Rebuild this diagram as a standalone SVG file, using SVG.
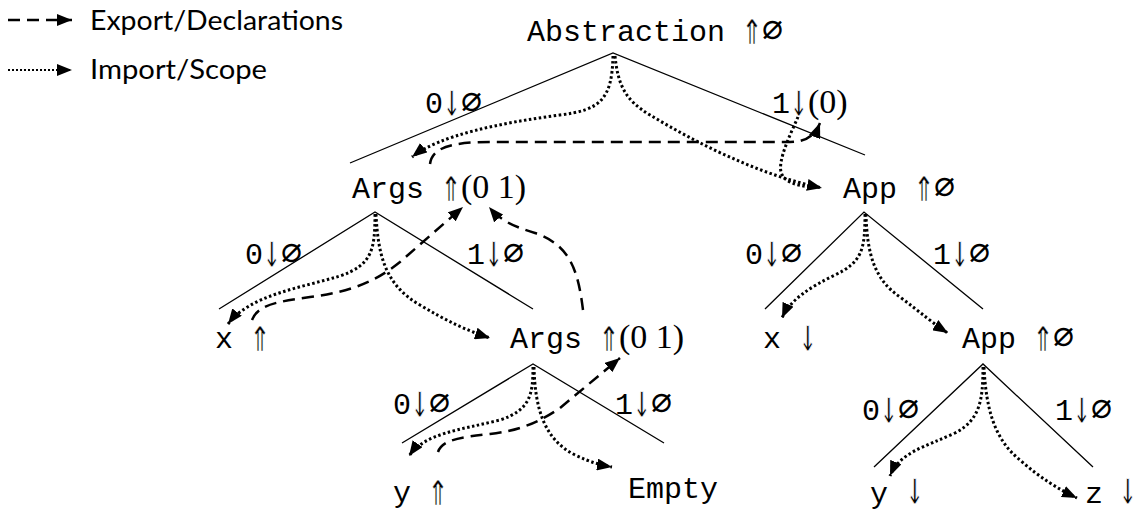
<svg xmlns="http://www.w3.org/2000/svg" width="1139" height="516" viewBox="0 0 1139 516">
<defs>
<marker id="ah" viewBox="0 0 15 12" refX="15" refY="6" markerWidth="15" markerHeight="12" markerUnits="userSpaceOnUse" orient="auto"><path d="M0,0 L15,6 L0,12 z" fill="#000"/></marker>
</defs>
<style>
.t{font-family:"Liberation Mono","DejaVu Sans Mono",monospace;font-size:30px;fill:#000}
.s{font-family:"Liberation Serif","DejaVu Serif",serif;font-size:34px}
.e{font-family:"DejaVu Sans Mono",monospace;font-size:35px}
.ar{font-family:"DejaVu Sans Mono",monospace;font-size:48px;text-anchor:middle;fill:#000;stroke:#fff;stroke-width:1;opacity:0.99}
.ar2{font-family:"DejaVu Sans Mono",monospace;font-size:46px;text-anchor:middle;fill:#000;stroke:#fff;stroke-width:0.3;opacity:0.99}
.lg{font-family:Lato,"Liberation Sans",sans-serif;font-size:27px;fill:#000}
.tree{stroke:#000;stroke-width:1.3;fill:none}
.imp{stroke:#000;stroke-width:3;stroke-dasharray:2.5 2.5;fill:none;marker-end:url(#ah)}
.exp{stroke:#000;stroke-width:2.5;stroke-dasharray:12 7;fill:none;marker-end:url(#ah)}
.imp0{stroke:#000;stroke-width:3;stroke-dasharray:2.5 2.5;fill:none}
</style>
<rect width="1139" height="516" fill="#fff"/>
<g id="legend">
<path class="exp" d="M8 20 L72 20"/>
<text class="lg" x="90" y="30" textLength="253" lengthAdjust="spacingAndGlyphs">Export/Declarations</text>
<path class="imp" style="stroke-width:2;stroke-dasharray:2 2" d="M8 70 L72 70"/>
<text class="lg" x="90" y="79" textLength="177" lengthAdjust="spacingAndGlyphs">Import/Scope</text>
</g>
<g id="connectors">
<g id="tree-edges">
<path class="tree" d="M350 163 L613 53 L865 155"/>
<path class="tree" d="M219 309 L375 212 L533 309"/>
<path class="tree" d="M765 309 L864 212 L983 309"/>
<path class="tree" d="M402 443 L533 364 L664 443"/>
<path class="tree" d="M874 467 L983 364 L1093 467"/>
</g>
<g id="import-scope">
<path class="imp" d="M613 56 C612 100, 600 110, 560 115 C500 123, 440 135, 412 157"/>
<path class="imp" d="M615 56 C618 85, 625 100, 650 115 C700 145, 760 175, 822 188"/>
<path class="imp0" d="M798 117 C790 135, 778 160, 781 172 C784 182, 795 185, 810 187"/>
<path class="imp" d="M375 214 C375 250, 372 265, 340 276 C300 288, 250 295, 228 324"/>
<path class="imp" d="M376 214 C378 255, 385 285, 420 305 C445 320, 465 330, 490 338"/>
<path class="imp" d="M865 214 C865 250, 862 262, 835 275 C810 287, 790 300, 782 318"/>
<path class="imp" d="M866 214 C867 255, 875 280, 900 297 C920 312, 935 325, 948 333"/>
<path class="imp" d="M533 367 C533 395, 530 410, 500 420 C460 430, 425 433, 409 456"/>
<path class="imp" d="M534 367 C535 410, 545 440, 575 455 C590 462, 600 465, 612 467"/>
<path class="imp" d="M983 367 C983 400, 980 420, 955 433 C925 447, 900 452, 890 476"/>
<path class="imp" d="M984 367 C986 410, 995 440, 1020 460 C1040 478, 1060 490, 1077 498"/>
</g>
<g id="export-declarations">
<path class="exp" d="M430 164 C432 148, 450 142, 490 142 L790 142 C805 142, 815 136, 820 123"/>
<path class="exp" d="M252 320 C258 305, 275 302, 310 297 C350 292, 375 282, 400 262 L463 207"/>
<path class="exp" d="M583 310 C578 270, 570 245, 535 233 C512 226, 500 220, 489 207"/>
<path class="exp" d="M438 452 C442 440, 460 437, 490 434 C515 431, 535 425, 560 408 L620 358"/>
</g>
</g>
<g id="edge-labels">
<g><text class="t" x="425" y="113">0<tspan class="e" x="461">∅</tspan></text><text class="ar" transform="translate(452,116) scale(0.6,1)">↓</text></g>
<g><text class="t" x="772" y="113">1<tspan class="s" x="808">(0)</tspan></text><text class="ar" transform="translate(799,116) scale(0.6,1)">↓</text></g>
<g><text class="t" x="245" y="264">0<tspan class="e" x="281">∅</tspan></text><text class="ar" transform="translate(272,267) scale(0.6,1)">↓</text></g>
<g><text class="t" x="467" y="264">1<tspan class="e" x="503">∅</tspan></text><text class="ar" transform="translate(494,267) scale(0.6,1)">↓</text></g>
<g><text class="t" x="745" y="264">0<tspan class="e" x="781">∅</tspan></text><text class="ar" transform="translate(772,267) scale(0.6,1)">↓</text></g>
<g><text class="t" x="933" y="264">1<tspan class="e" x="969">∅</tspan></text><text class="ar" transform="translate(960,267) scale(0.6,1)">↓</text></g>
<g><text class="t" x="393" y="414">0<tspan class="e" x="429">∅</tspan></text><text class="ar" transform="translate(420,417) scale(0.6,1)">↓</text></g>
<g><text class="t" x="615" y="414">1<tspan class="e" x="651">∅</tspan></text><text class="ar" transform="translate(642,417) scale(0.6,1)">↓</text></g>
<g><text class="t" x="862" y="420">0<tspan class="e" x="898">∅</tspan></text><text class="ar" transform="translate(889,423) scale(0.6,1)">↓</text></g>
<g><text class="t" x="1055" y="420">1<tspan class="e" x="1091">∅</tspan></text><text class="ar" transform="translate(1082,423) scale(0.6,1)">↓</text></g>
</g>
<g id="abstraction"><text class="t" x="527" y="41">Abstraction<tspan class="e" x="762">∅</tspan></text><text class="ar2" transform="translate(752,44) scale(0.7,1)">⇑</text></g>
<g id="args1"><text class="t" x="352" y="198">Args<tspan class="s" x="461">(0 1)</tspan></text><text class="ar2" transform="translate(451,201) scale(0.7,1)">⇑</text></g>
<g id="app1"><text class="t" x="843" y="198">App<tspan class="e" x="934">∅</tspan></text><text class="ar2" transform="translate(924,201) scale(0.7,1)">⇑</text></g>
<g id="x-up"><text class="t" x="215" y="348">x</text><text class="ar2" transform="translate(260,351) scale(0.7,1)">⇑</text></g>
<g id="args2"><text class="t" x="510" y="348">Args<tspan class="s" x="619">(0 1)</tspan></text><text class="ar2" transform="translate(609,351) scale(0.7,1)">⇑</text></g>
<g id="x-down"><text class="t" x="763" y="348">x</text><text class="ar" transform="translate(808,351) scale(0.6,1)">↓</text></g>
<g id="app2"><text class="t" x="962" y="348">App<tspan class="e" x="1053">∅</tspan></text><text class="ar2" transform="translate(1043,351) scale(0.7,1)">⇑</text></g>
<g id="y-up"><text class="t" x="393" y="502">y</text><text class="ar2" transform="translate(438,505) scale(0.7,1)">⇑</text></g>
<g id="empty"><text class="t" x="628" y="498">Empty</text></g>
<g id="y-down"><text class="t" x="870" y="503">y</text><text class="ar" transform="translate(915,504) scale(0.6,1)">↓</text></g>
<g id="z-down"><text class="t" x="1085" y="503">z</text><text class="ar" transform="translate(1128,504) scale(0.6,1)">↓</text></g>
</svg>
